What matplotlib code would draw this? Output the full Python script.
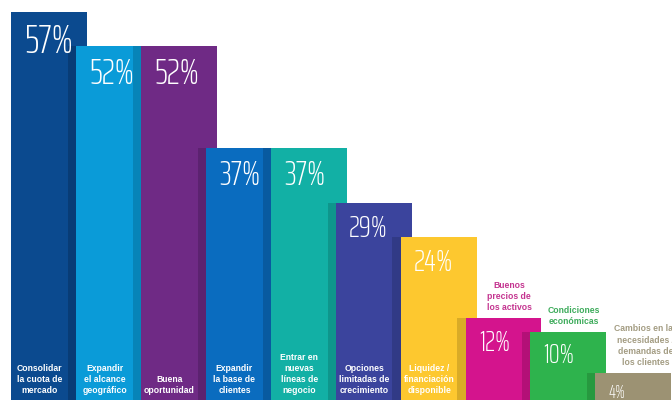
import matplotlib
matplotlib.use("Agg")
import matplotlib.pyplot as plt

# reasons (Spanish survey chart), share of respondents in %
labels = [
    "Consolidar\nla cuota de\nmercado",
    "Expandir\nel alcance\ngeográfico",
    "Buena\noportunidad",
    "Expandir\nla base de\nclientes",
    "Entrar en\nnuevas\nlíneas de\nnegocio",
    "Opciones\nlimitadas de\ncrecimiento",
    "Liquidez /\nfinanciación\ndisponible",
    "Buenos\nprecios de\nlos activos",
    "Condiciones\neconómicas",
    "Cambios en las\nnecesidades /\ndemandas de\nlos clientes",
]
values = [57, 52, 52, 37, 37, 29, 24, 12, 10, 4]
colors = ["#0b4a8f", "#0a9bd8", "#6f2a85", "#0a6cbf", "#12b0a5",
          "#3b449d", "#fdc82f", "#d4148d", "#2eb34d", "#9c9273"]
shadows = ["#083c76", "#0784b8", "#5c2270", "#085aa0", "#0e968c",
           "#313a86", "#d9ab27", "#b31077", "#27993f", "#857c62"]
outside_colors = ["#c4338f", "#3cab5a", "#a39c82"]  # labels drawn above the last 3 bars
n_inside = 7

# the percentage figures shrink along with the bars in the original
pct_sizes = [29.5, 26.5, 26.5, 25, 25, 22, 22.5, 20.5, 19.5, 13.5]

BAR_W = 1.17
SHADOW_W = 0.125
PCT_FONT = ["Saira ExtraCondensed", "Roboto Condensed", "DejaVu Sans"]
LBL_FONT = ["Liberation Sans", "DejaVu Sans"]

fig = plt.figure(figsize=(6.72, 4), dpi=100)
ax = fig.add_axes([0, 0, 1, 1])
ax.set_axis_off()

for i, (v, c) in enumerate(zip(values, colors)):
    ax.bar(i, v, width=BAR_W, align="edge", color=c, zorder=2 + 2 * i, linewidth=0)
    if i + 1 < len(values):
        # darker strip where the next bar casts its shadow
        ax.bar(i + 1 - SHADOW_W, min(v, values[i + 1]), width=SHADOW_W, align="edge",
               color=shadows[i], zorder=3 + 2 * i, linewidth=0)

    ax.annotate(f"{v}%", xy=(i, v), xytext=(9.5, -8), textcoords="offset points",
                ha="left", va="top", fontsize=pct_sizes[i], color="white",
                family=PCT_FONT, fontweight=275, zorder=60)

    if i < n_inside:
        ax.annotate(labels[i], xy=(i + 0.44, 0), xytext=(0, 5), textcoords="offset points",
                    ha="center", va="baseline", fontsize=6.2, fontweight="bold",
                    color="white", family=LBL_FONT, linespacing=1.3, zorder=60)
    else:
        dx = 0.77 if i == len(values) - 1 else 0.67
        ax.annotate(labels[i], xy=(i + dx, v), xytext=(0, 5.8), textcoords="offset points",
                    ha="center", va="baseline", fontsize=6.2, fontweight="bold",
                    color=outside_colors[i - n_inside], family=LBL_FONT,
                    linespacing=1.3, zorder=60)

ax.set_xlim(-0.17, 10.18)
ax.set_ylim(0, 58.8)

fig.savefig("out.png", dpi=100)
